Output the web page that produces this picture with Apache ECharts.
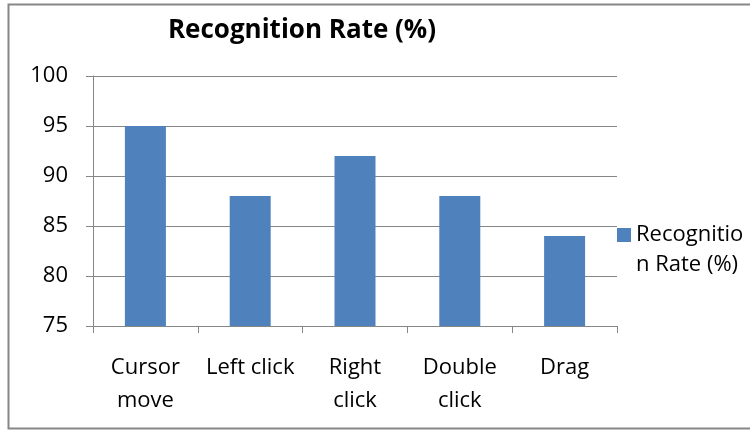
<!DOCTYPE html>
<html>
<head>
<meta charset="utf-8">
<script src="https://cdn.jsdelivr.net/npm/echarts@6/dist/echarts.min.js"></script>
<style>
  html, body { margin: 0; padding: 0; background: #fff; }
  #chart { width: 750px; height: 432px; }
</style>
</head>
<body>
<div id="chart"></div>
<script>
const categories = ["Cursor\nmove", "Left click", "Right\nclick", "Double\nclick", "Drag"]
const rates = [95, 88, 92, 88, 84]
const seriesName = "Recognition Rate (%)"

const FONT = "'Open Sans', sans-serif"
const chart = echarts.init(document.getElementById("chart"), null, { renderer: "canvas" })

chart.setOption({
  animation: false,
  backgroundColor: "#fff",
  textStyle: { fontFamily: FONT },
  title: {
    text: seriesName,
    left: 297,
    textAlign: "center",
    top: 13,
    textStyle: { fontSize: 26, fontWeight: "bold", color: "#000", fontFamily: FONT },
  },
  graphic: [
    {
      type: "rect",
      shape: { x: 8.5, y: 4.5, width: 760, height: 424 },
      style: { fill: "none", stroke: "#878787", lineWidth: 2 },
      silent: true,
    },
    {
      type: "text",
      left: 636,
      top: 254,
      style: { text: "n Rate (%)", fontSize: 22, fill: "#000", fontFamily: FONT },
      silent: true,
    },
  ],
  legend: {
    left: 612,
    top: 219,
    itemWidth: 14,
    itemHeight: 14,
    itemGap: 0,
    icon: "rect",
    formatter: () => "Recognitio",
    textStyle: { fontSize: 22, color: "#000", fontFamily: FONT },
  },
  grid: { left: 93, right: 133, top: 76, bottom: 106, containLabel: false },
  xAxis: {
    type: "category",
    data: categories,
    axisLine: { lineStyle: { color: "#868686", width: 1 } },
    axisTick: { show: true, length: 7, inside: false, lineStyle: { color: "#868686" } },
    axisLabel: { fontSize: 22, color: "#000", lineHeight: 33, margin: 25, interval: 0, fontFamily: FONT },
  },
  yAxis: {
    type: "value",
    min: 75,
    max: 100,
    interval: 5,
    axisLine: { show: true, lineStyle: { color: "#868686", width: 1 } },
    axisTick: { show: true, length: 7, lineStyle: { color: "#868686" } },
    splitLine: { lineStyle: { color: "#868686", width: 1 } },
    axisLabel: { fontSize: 22, color: "#000", margin: 25, fontFamily: FONT },
  },
  series: [
    {
      name: seriesName,
      type: "bar",
      data: rates,
      barWidth: 41,
      itemStyle: { color: "#4f81bd" },
    },
  ],
})
</script>
</body>
</html>
